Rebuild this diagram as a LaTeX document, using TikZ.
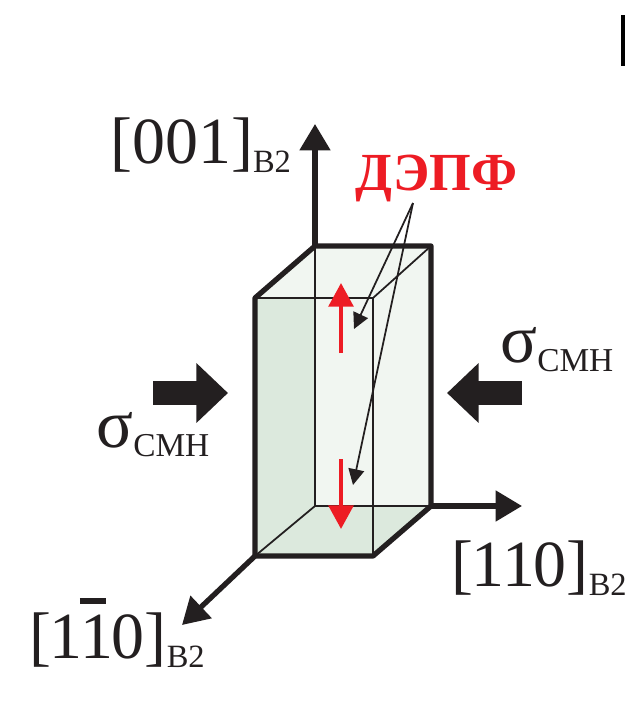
\documentclass[tikz,border=0pt]{standalone}
\usepackage{fontspec}
\setmainfont{Liberation Serif}
\usetikzlibrary{arrows.meta}
\definecolor{faceL}{HTML}{F1F6F1}
\definecolor{faceD}{HTML}{DCE9DD}
\definecolor{inkK}{HTML}{231F20}
\definecolor{redD}{HTML}{ED1C24}
\newcommand{\axlabel}[1]{{\fontsize{37.5}{37.5}\selectfont[#1]}\raisebox{-5.5pt}{\fontsize{18.5}{18.5}\selectfont B2}}
\newcommand{\sigmalabel}{{\fontsize{39}{39}\selectfont σ}\raisebox{-5.5pt}{\fontsize{19}{19}\selectfont СМН}}
\tikzset{
	lab/.style={anchor=base west, inner sep=0pt, text=inkK},
	thickedge/.style={draw=inkK, line width=3pt, line join=round},
	thinedge/.style={draw=inkK, line width=1pt},
	axis/.style={draw=inkK, line width=3pt, -{Triangle[length=15pt,width=17pt]}},
	load/.style={draw=inkK, line width=13.7pt, -{Triangle[length=18pt,width=33pt]}},
	redarrow/.style={draw=redD, line width=2.4pt, -{Triangle[length=13.5pt,width=14pt]}, redD},
	pointer/.style={draw=inkK, line width=1pt, -{Triangle[length=9pt,width=9pt]}, inkK}
}
\begin{document}
\begin{tikzpicture}[x=.02cm, y=-.02cm]
	\useasboundingbox (0,0) rectangle (630,707);
	\coordinate (ftl) at (255,298);
	\coordinate (ftr) at (373,298);
	\coordinate (fbl) at (255,556);
	\coordinate (fbr) at (373,556);
	\coordinate (btl) at (315,246);
	\coordinate (btr) at (431,246);
	\coordinate (bbl) at (315,506);
	\coordinate (bbr) at (431,506);
	\coordinate (lfm) at (315,298);
	\fill [faceL] (ftl)--(btl)--(btr)--(bbr)--(fbr)--(fbl)--cycle;
	\fill [faceD] (ftl)--(lfm)--(bbl)--(fbl)--cycle;
	\fill [faceD] (fbl)--(bbl)--(bbr)--(fbr)--cycle;
	\draw [thinedge] (fbl)--(bbl)--(bbr)
	(btl)--(bbl)
	(ftl)--(ftr)--(fbr)
	(ftr)--(btr)
	;
	\coordinate (zend) at (315,124);
	\coordinate (xend) at (522,506);
	\coordinate (yend) at (182,625);
	\draw [axis] (btl)--(zend);
	\draw [axis] (bbr)--(xend);
	\draw [axis] (fbl)--(yend);
	\draw [thickedge] (ftl)--(btl)--(btr)--(bbr)--(fbr)--(fbl)--cycle;
	\coordinate (upS) at (341,353);
	\coordinate (upE) at (341,283);
	\coordinate (dnS) at (341,459);
	\coordinate (dnE) at (341,529);
	\draw [redarrow] (upS)--(upE);
	\draw [redarrow] (dnS)--(dnE);
	\coordinate (leftS) at (153,393);
	\coordinate (leftE) at (228,393);
	\coordinate (rightS) at (522,393);
	\coordinate (rightE) at (447,393);
	\draw [load] (leftS)--(leftE);
	\draw [load] (rightS)--(rightE);
	\node [lab, font=\fontsize{30.5}{30.5}\selectfont\bfseries, text=redD] (dep) at (355,190) {ДЭПФ};
	\coordinate (ptr) at (413,203);
	\coordinate (ptrA) at (354,329);
	\coordinate (ptrB) at (353,485);
	\draw [pointer] (ptr)--(ptrA);
	\draw [pointer] (ptr)--(ptrB);
	\node [lab] (zlab) at (110,163) {\axlabel{001}};
	\node [lab] (xlab) at (451,586) {\axlabel{\kern-1pt 1\kern-1pt 1\kern-1pt 0}};
	\node [lab] (ylab) at (29,658) {\axlabel{\kern-1pt 1\kern-1pt\rlap{\hspace{-.5pt}\raisebox{31pt}{\rule{15pt}{3.4pt}}}1\kern-1pt 0}};
	\node [lab] (sigL) at (96,447) {\sigmalabel};
	\node [lab] (sigR) at (500,362) {\sigmalabel};
	\coordinate (barT) at (623,15);
	\coordinate (barB) at (623,66);
	\draw [line width=2pt] (barT)--(barB);
\end{tikzpicture}
\end{document}
